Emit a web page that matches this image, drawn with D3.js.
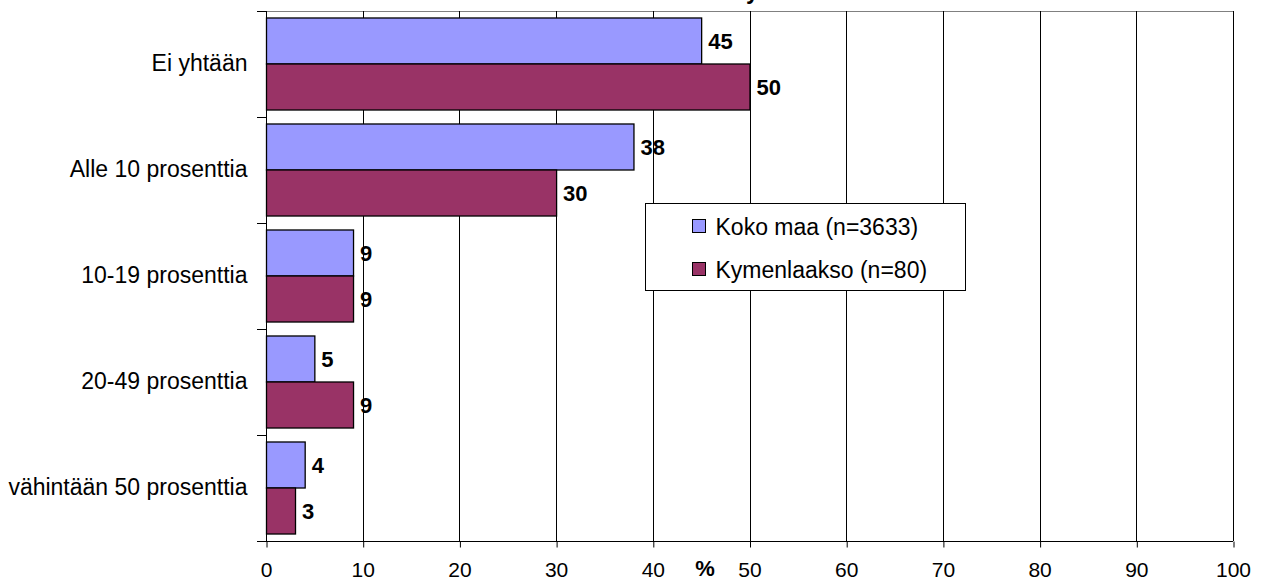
<!DOCTYPE html>
<html>
<head>
<meta charset="utf-8">
<script src="https://cdn.jsdelivr.net/npm/d3@7"></script>
<style>
  body { margin: 0; background: #fff; }
  svg { display: block; font-family: "Liberation Sans", Arial, sans-serif; }
</style>
</head>
<body>
<svg id="canvas" width="1262" height="581"></svg>
<script>
// data
let categories = ["Ei yhtään", "Alle 10 prosenttia", "10-19 prosenttia", "20-49 prosenttia", "vähintään 50 prosenttia"];
let seriesNames = ["Koko maa (n=3633)", "Kymenlaakso (n=80)"];
let kokoMaa = [45, 38, 9, 5, 4];
let kymenlaakso = [50, 30, 9, 9, 3];
let xTicks = [0, 10, 20, 30, 40, 50, 60, 70, 80, 90, 100];
let colors = ["#9999ff", "#993366"];

let canvas = d3.select('#canvas');

let x = d3.scaleLinear().domain([0, 100]).range([266, 1233]);
let y = d3.scaleBand().domain(categories).range([11, 541]);
let ySub = d3.scaleBand().domain(seriesNames).range([0, y.bandwidth()]).paddingInner(0).paddingOuter(0.152);

let px = (v) => Math.round(v) + 0.5;

// cut-off title, only the tail of the last letter shows
canvas.append('text')
    .attr('x', 746)
    .attr('y', -1)
    .attr('font-size', 23)
    .attr('font-weight', 'bold')
    .text('y');

// top border
canvas.append('line')
    .attr('x1', 257).attr('x2', x(100))
    .attr('y1', px(11)).attr('y2', px(11))
    .attr('stroke', '#808080');

// vertical gridlines
canvas.append('g')
    .selectAll('line')
    .data(xTicks.slice(1))
    .enter()
    .append('line')
    .attr('x1', (d) => px(x(d)))
    .attr('x2', (d) => px(x(d)))
    .attr('y1', 11)
    .attr('y2', 541)
    .attr('stroke', '#000');

// bars
let rows = categories.map((c, i) => ({ cat: c, values: [kokoMaa[i], kymenlaakso[i]] }));

let group = canvas.selectAll('g.cat')
    .data(rows)
    .enter()
    .append('g')
    .attr('class', 'cat')
    .attr('transform', (r) => 'translate(0,' + y(r.cat) + ')');

group.selectAll('rect')
    .data((r) => r.values.map((v, j) => ({ name: seriesNames[j], value: v, j: j })))
    .enter()
    .append('rect')
    .attr('x', px(x(0)))
    .attr('y', (d) => ySub(d.name))
    .attr('width', (d) => x(d.value) - x(0))
    .attr('height', ySub.bandwidth())
    .attr('fill', (d) => colors[d.j])
    .attr('stroke', '#000')
    .attr('stroke-width', 1.3);

group.selectAll('text')
    .data((r) => r.values.map((v, j) => ({ name: seriesNames[j], value: v })))
    .enter()
    .append('text')
    .attr('x', (d) => x(d.value) + 7)
    .attr('y', (d) => ySub(d.name) + ySub.bandwidth() / 2)
    .attr('dy', '0.36em')
    .attr('font-size', 22)
    .attr('font-weight', 'bold')
    .text((d) => d.value);

// y axis
let yAxis = canvas.append('g')
    .attr('transform', 'translate(' + px(x(0)) + ',0)')
    .call(d3.axisLeft(y).tickSize(0).tickPadding(19))
    .call((g) => g.select('.domain').remove());

yAxis.selectAll('text')
    .attr('font-size', 23)
    .attr('font-family', '"Liberation Sans", Arial, sans-serif')
    .attr('fill', '#000');

canvas.append('line')
    .attr('x1', px(x(0))).attr('x2', px(x(0)))
    .attr('y1', 11).attr('y2', 541)
    .attr('stroke', '#000');

canvas.append('g')
    .selectAll('line')
    .data(categories.map((c) => y(c)).concat([541]))
    .enter()
    .append('line')
    .attr('x1', 257).attr('x2', x(0))
    .attr('y1', (d) => px(d)).attr('y2', (d) => px(d))
    .attr('stroke', '#000');

// x axis
let xAxis = canvas.append('g')
    .attr('transform', 'translate(0,' + px(541) + ')')
    .call(d3.axisBottom(x).tickValues(xTicks).tickSize(6).tickPadding(15).tickSizeOuter(0).tickFormat(d3.format('d')));

xAxis.select('.domain').attr('d', 'M257,0H' + x(100)).attr('stroke', '#000');
xAxis.selectAll('.tick line').attr('stroke', '#000').attr('transform', 'translate(0.5,0)');
xAxis.selectAll('text')
    .attr('font-size', 21)
    .attr('font-family', '"Liberation Sans", Arial, sans-serif')
    .attr('fill', '#000');

canvas.append('text')
    .attr('x', 705)
    .attr('y', 576)
    .attr('text-anchor', 'middle')
    .attr('font-size', 22)
    .attr('font-weight', 'bold')
    .text('%');

// legend
let legend = canvas.append('g').attr('transform', 'translate(645.5,203.5)');

legend.append('rect')
    .attr('width', 320)
    .attr('height', 87)
    .attr('fill', '#fff')
    .attr('stroke', '#000');

let item = legend.selectAll('g')
    .data(seriesNames)
    .enter()
    .append('g')
    .attr('transform', (d, i) => 'translate(47,' + (16 + i * 43) + ')');

item.append('rect')
    .attr('width', 13)
    .attr('height', 13)
    .attr('fill', (d, i) => colors[i])
    .attr('stroke', '#000');

item.append('text')
    .attr('x', 23)
    .attr('y', 7)
    .attr('dy', '0.36em')
    .attr('font-size', 23)
    .text((d) => d);
</script>
</body>
</html>
